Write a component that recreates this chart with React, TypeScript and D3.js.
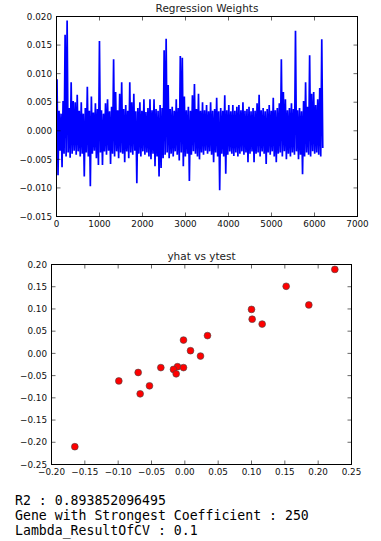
import React from "react";
import * as d3 from "d3";

// Regression weights, read per bin of genes: upper and lower excursion in each bin
const weightHighs = [
  0.009, 0.0035, 0.003, 0.0052, 0.0168, 0.0193, 0.004, 0.0085, 0.0052, 0.005,
  0.0063, 0.0035, 0.005, 0.003, 0.004, 0.0077, 0.0035, 0.006, 0.0032, 0.0048,
  0.0038, 0.0157, 0.0036, 0.003, 0.0048, 0.0055, 0.0034, 0.0042, 0.0125, 0.0068,
  0.0036, 0.0065, 0.0085, 0.0038, 0.0045, 0.0035, 0.0085, 0.005, 0.0065, 0.0034,
  0.004, 0.005, 0.0035, 0.0055, 0.0033, 0.004, 0.0055, 0.0036, 0.0055, 0.0038,
  0.0035, 0.0045, 0.004, 0.0141, 0.0161, 0.008, 0.0038, 0.0042, 0.0035, 0.0055,
  0.004, 0.0131, 0.0128, 0.006, 0.0036, 0.0042, 0.0035, 0.0062, 0.0082, 0.0038,
  0.0065, 0.0035, 0.005, 0.0036, 0.0045, 0.0034, 0.005, 0.0035, 0.0038, 0.0058,
  0.0034, 0.004, 0.0035, 0.0062, 0.0036, 0.0045, 0.0034, 0.0045, 0.0035, 0.0042,
  0.0045, 0.0036, 0.005, 0.0035, 0.0038, 0.0042, 0.0034, 0.004, 0.0035, 0.0048,
  0.0063, 0.0036, 0.004, 0.0034, 0.0038, 0.0045, 0.0035, 0.0058, 0.0036, 0.004,
  0.0048, 0.0125, 0.0068, 0.0055, 0.0036, 0.004, 0.0048, 0.0038, 0.0175, 0.0036,
  0.004, 0.0034, 0.0052, 0.0085, 0.0042, 0.0132, 0.0065, 0.0068, 0.0045, 0.0055,
  0.0075, 0.016,
];
const weightLows = [
  -0.0078, -0.0035, -0.0064, -0.004, -0.0045, -0.0038, -0.0047, -0.004, -0.0035, -0.0042,
  -0.0036, -0.0045, -0.004, -0.008, -0.0038, -0.0045, -0.0097, -0.004, -0.0035, -0.0048,
  -0.006, -0.0038, -0.006, -0.0036, -0.0042, -0.0035, -0.0058, -0.004, -0.0045, -0.0036,
  -0.0048, -0.0038, -0.004, -0.0055, -0.0036, -0.0048, -0.0038, -0.0042, -0.0035, -0.0092,
  -0.004, -0.0045, -0.0036, -0.0042, -0.0038, -0.0045, -0.005, -0.004, -0.0062, -0.0045,
  -0.008, -0.0065, -0.0048, -0.0042, -0.0038, -0.0048, -0.004, -0.0045, -0.0036, -0.0042,
  -0.0052, -0.0038, -0.0062, -0.0045, -0.004, -0.0088, -0.0042, -0.0036, -0.004, -0.0045,
  -0.005, -0.0038, -0.0042, -0.0035, -0.004, -0.0036, -0.0042, -0.0055, -0.0038, -0.0045,
  -0.0104, -0.004, -0.0045, -0.0075, -0.0042, -0.0036, -0.004, -0.0044, -0.0038, -0.0045,
  -0.004, -0.0036, -0.0042, -0.0038, -0.0055, -0.004, -0.0036, -0.0055, -0.004, -0.0038,
  -0.0045, -0.0036, -0.004, -0.0058, -0.0038, -0.0042, -0.0036, -0.0045, -0.0055, -0.004,
  -0.0038, -0.0045, -0.0036, -0.005, -0.004, -0.0045, -0.0038, -0.0042, -0.0036, -0.005,
  -0.0042, -0.0076, -0.0045, -0.0038, -0.0042, -0.0045, -0.0036, -0.004, -0.0038, -0.0042,
  -0.0045, -0.003,
];
const GENES_PER_BIN = 47;

const weightXTicks = [0, 1000, 2000, 3000, 4000, 5000, 6000, 7000];
const weightYTicks = [-0.015, -0.01, -0.005, 0, 0.005, 0.01, 0.015, 0.02];

// yhat vs ytest
const ytest = [
  0.225, 0.152, 0.186, 0.1, 0.101, 0.116, 0.034, -0.002, 0.0085, 0.0235,
  -0.036, -0.011, -0.002, -0.017, -0.013, -0.07, -0.099, -0.053, -0.067, -0.165,
];
const yhat = [
  0.189, 0.151, 0.109, 0.099, 0.077, 0.066, 0.04, 0.03, 0.006, -0.006,
  -0.032, -0.03, -0.032, -0.036, -0.046, -0.043, -0.062, -0.073, -0.091, -0.21,
];
const scatterXTicks = [-0.2, -0.15, -0.1, -0.05, 0, 0.05, 0.1, 0.15, 0.2, 0.25];
const scatterYTicks = [-0.25, -0.2, -0.15, -0.1, -0.05, 0, 0.05, 0.1, 0.15, 0.2];

const reportLines = [
  "R2 : 0.893852096495",
  "Gene with Strongest Coefficient : 250",
  "Lambda_ResultOfCV : 0.1",
];

const FONT = "DejaVu Sans";
const TICK_FS = 8.8;
const TICK_LEN = 4;

type AxesProps = {
  x: d3.ScaleLinear<number, number>;
  y: d3.ScaleLinear<number, number>;
  xTicks: number[];
  yTicks: number[];
  xFmt: (v: number) => string;
  yFmt: (v: number) => string;
  title: string;
  titleY: number;
  children?: React.ReactNode;
};

function Axes({ x, y, xTicks, yTicks, xFmt, yFmt, title, titleY, children }: AxesProps) {
  const [x0, x1] = x.range();
  const [y1, y0] = y.range();
  return (
    <g>
      <rect x={x0} y={y0} width={x1 - x0} height={y1 - y0} fill="#fff" />
      {children}
      {xTicks.map((t) => (
        <g key={"x" + t}>
          <line x1={x(t)} x2={x(t)} y1={y1} y2={y1 - TICK_LEN} stroke="#000" strokeWidth={0.6} />
          <line x1={x(t)} x2={x(t)} y1={y0} y2={y0 + TICK_LEN} stroke="#000" strokeWidth={0.6} />
          <text x={x(t)} y={y1 + 10.3} fontSize={TICK_FS} fontFamily={FONT} textAnchor="middle" fill="#111">
            {xFmt(t)}
          </text>
        </g>
      ))}
      {yTicks.map((t) => (
        <g key={"y" + t}>
          <line x1={x0} x2={x0 + TICK_LEN} y1={y(t)} y2={y(t)} stroke="#000" strokeWidth={0.6} />
          <line x1={x1} x2={x1 - TICK_LEN} y1={y(t)} y2={y(t)} stroke="#000" strokeWidth={0.6} />
          <text x={x0 - 4.5} y={y(t) + 3.2} fontSize={TICK_FS} fontFamily={FONT} textAnchor="end" fill="#111">
            {yFmt(t)}
          </text>
        </g>
      ))}
      <rect x={x0} y={y0} width={x1 - x0} height={y1 - y0} fill="none" stroke="#000" strokeWidth={1} />
      <text x={(x0 + x1) / 2} y={titleY} fontSize={10.5} fontFamily={FONT} textAnchor="middle" fill="#222">
        {title}
      </text>
    </g>
  );
}

export default function App() {
  const fmt3 = d3.format(".3f");
  const fmt2 = d3.format(".2f");
  const fmtInt = d3.format("d");

  const wx = d3.scaleLinear().domain([0, 7000]).range([56.5, 357.5]);
  const wy = d3.scaleLinear().domain([-0.015, 0.02]).range([216.5, 16.5]);

  const weightPoints: [number, number][] = weightHighs.flatMap((h, i) => [
    [i * GENES_PER_BIN + 12, h] as [number, number],
    [i * GENES_PER_BIN + 35, weightLows[i]] as [number, number],
  ]);
  const weightLine = d3
    .line<[number, number]>()
    .x((d) => wx(d[0]))
    .y((d) => wy(d[1]));

  const sx = d3.scaleLinear().domain([-0.2, 0.25]).range([51.5, 351.5]);
  const sy = d3.scaleLinear().domain([-0.25, 0.2]).range([464.5, 264.5]);

  return (
    <svg
      width={381}
      height={541}
      style={{ position: "absolute", left: 0, top: 0, background: "#fff" }}
    >
      <rect x={0} y={0} width={381} height={541} fill="#fff" />
      <Axes
        x={wx}
        y={wy}
        xTicks={weightXTicks}
        yTicks={weightYTicks}
        xFmt={(v) => fmtInt(v)}
        yFmt={(v) => fmt3(v)}
        title="Regression Weights"
        titleY={11.5}
      >
        <path
          d={weightLine(weightPoints) || ""}
          fill="none"
          stroke="#0000ff"
          strokeWidth={1.7}
          strokeLinejoin="bevel"
        />
      </Axes>
      <Axes
        x={sx}
        y={sy}
        xTicks={scatterXTicks}
        yTicks={scatterYTicks}
        xFmt={(v) => fmt2(v)}
        yFmt={(v) => fmt2(v)}
        title="yhat vs ytest"
        titleY={259.5}
      >
        {ytest.map((v, i) => (
          <circle key={i} cx={sx(v)} cy={sy(yhat[i])} r={3.4} fill="#ff0000" stroke="#444" strokeWidth={0.6} />
        ))}
      </Axes>
      {reportLines.map((line, i) => (
        <text
          key={i}
          x={15}
          y={504.5 + i * 15.4}
          fontSize={13.2}
          fontFamily="DejaVu Sans Mono"
          fill="#000"
          style={{ whiteSpace: "pre" }}
        >
          {line}
        </text>
      ))}
    </svg>
  );
}
